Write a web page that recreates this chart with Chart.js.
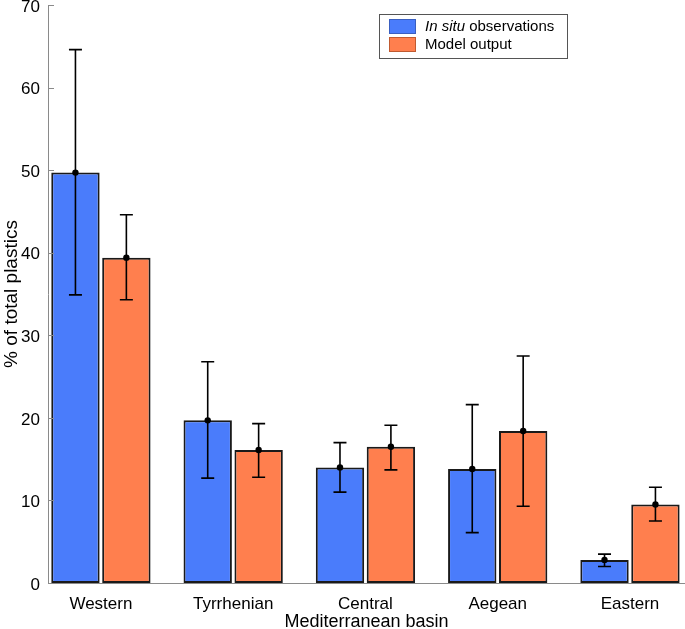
<!DOCTYPE html>
<html>
<head>
<meta charset="utf-8">
<script src="https://cdn.jsdelivr.net/npm/chart.js@4.4.0/dist/chart.umd.min.js"></script>
<style>
  html, body { margin: 0; padding: 0; background: #fff; }
</style>
</head>
<body>
<canvas id="chart" width="685" height="629"></canvas>
<script>
// data
const categories = ["Western", "Tyrrhenian", "Central", "Aegean", "Eastern"];
const insitu = [49.7, 19.7, 14.0, 13.8, 2.8];
const insituLow = [34.9, 12.7, 11.0, 6.1, 2.0];
const insituHigh = [64.6, 26.8, 17.0, 21.6, 3.5];
const model = [39.4, 16.1, 16.5, 18.4, 9.5];
const modelLow = [34.3, 12.8, 13.7, 9.3, 7.5];
const modelHigh = [44.6, 19.3, 19.1, 27.5, 11.6];
const yTicks = [0, 10, 20, 30, 40, 50, 60, 70];

const FONT = "'Liberation Sans', Arial, Helvetica, sans-serif";
const BLUE = "#4a7cfb";
const ORANGE = "#ff7f4e";

const errors = [
	{ low: insituLow, high: insituHigh },
	{ low: modelLow, high: modelHigh },
];

// error bars + inward y ticks + legend box
const extras = {
	id: "extras",
	afterDatasetsDraw(chart) {
		const ctx = chart.ctx;
		const y = chart.scales.y;
		const area = chart.chartArea;
		ctx.save();

		// y ticks pointing into the plot
		ctx.strokeStyle = "#8a8a8a";
		ctx.lineWidth = 1;
		yTicks.forEach((t) => {
			const py = Math.round(y.getPixelForValue(t)) + 0.5;
			ctx.beginPath();
			ctx.moveTo(area.left, py);
			ctx.lineTo(area.left + 6, py);
			ctx.stroke();
		});

		// error bars
		ctx.strokeStyle = "#000";
		ctx.fillStyle = "#000";
		ctx.lineWidth = 1.6;
		chart.data.datasets.forEach((ds, di) => {
			const meta = chart.getDatasetMeta(di);
			meta.data.forEach((bar, i) => {
				const x = bar.x;
				const top = y.getPixelForValue(errors[di].high[i]);
				const bot = y.getPixelForValue(errors[di].low[i]);
				ctx.beginPath();
				ctx.moveTo(x, top);
				ctx.lineTo(x, bot);
				ctx.moveTo(x - 6.5, top);
				ctx.lineTo(x + 6.5, top);
				ctx.moveTo(x - 6.5, bot);
				ctx.lineTo(x + 6.5, bot);
				ctx.stroke();
				ctx.beginPath();
				ctx.arc(x, bar.y, 3.2, 0, Math.PI * 2);
				ctx.fill();
			});
		});

		// legend
		const lx = 379, ly = 14, lw = 188, lh = 44;
		ctx.fillStyle = "#fff";
		ctx.fillRect(lx, ly, lw, lh);
		ctx.strokeStyle = "#555";
		ctx.lineWidth = 1;
		ctx.strokeRect(lx + 0.5, ly + 0.5, lw, lh);
		const rows = [
			{ color: BLUE, border: "#3a5fc0", y: 19 },
			{ color: ORANGE, border: "#c05a30", y: 37 },
		];
		rows.forEach((r) => {
			ctx.fillStyle = r.color;
			ctx.fillRect(389, r.y, 27, 15);
			ctx.strokeStyle = r.border;
			ctx.strokeRect(389.5, r.y + 0.5, 26, 14);
		});
		ctx.fillStyle = "#000";
		ctx.textBaseline = "middle";
		ctx.textAlign = "left";
		ctx.font = "italic 15px " + FONT;
		ctx.fillText("In situ", 425, 27);
		const w = ctx.measureText("In situ ").width;
		ctx.font = "15px " + FONT;
		ctx.fillText("observations", 425 + w, 27);
		ctx.fillText(chart.data.datasets[1].label, 425, 45);

		ctx.restore();
	},
};

const data = {
	datasets: [
		{
			label: "In situ observations",
			data: insitu.map((v, i) => ({ x: i + 1, y: v })),
			backgroundColor: BLUE,
			borderColor: "#1a1a1a",
			borderWidth: 2,
			borderSkipped: false,
		},
		{
			label: "Model output",
			data: model.map((v, i) => ({ x: i + 1, y: v })),
			backgroundColor: ORANGE,
			borderColor: "#1a1a1a",
			borderWidth: 2,
			borderSkipped: false,
		},
	],
};

const options = {
	responsive: false,
	devicePixelRatio: 1,
	animation: false,
	categoryPercentage: 0.77,
	barPercentage: 0.95,
	layout: { padding: { top: 5, right: 0, bottom: 0, left: 0 } },
	plugins: {
		legend: { display: false },
		tooltip: { enabled: false },
	},
	scales: {
		x: {
			type: "linear",
			offset: false,
			min: 0.6,
			max: 5.416,
			afterBuildTicks: (s) => {
				s.ticks = categories.map((c, i) => ({ value: i + 1 }));
			},
			afterFit: (s) => {
				s.height = 46;
				s.paddingLeft = 0;
				s.paddingRight = 0;
			},
			grid: { display: false, drawTicks: false, offset: false },
			border: { color: "#8a8a8a", width: 1 },
			ticks: {
				autoSkip: false,
				maxRotation: 0,
				padding: 11,
				color: "#000",
				font: { family: FONT, size: 17 },
				callback: (v) => categories[v - 1],
			},
			title: {
				display: true,
				text: "Mediterranean basin",
				color: "#000",
				font: { family: FONT, size: 18, lineHeight: 0.8 },
				padding: { top: 0, bottom: 0 },
			},
		},
		y: {
			min: 0,
			max: 70,
			afterBuildTicks: (s) => {
				s.ticks = yTicks.map((v) => ({ value: v }));
			},
			afterFit: (s) => {
				s.width = 48;
				s.paddingTop = 0;
				s.paddingBottom = 0;
			},
			grid: { display: false, drawTicks: false },
			border: { color: "#8a8a8a", width: 1 },
			ticks: {
				padding: 8,
				labelOffset: 2,
				color: "#000",
				font: { family: FONT, size: 17 },
			},
			title: {
				display: true,
				text: "% of total plastics",
				color: "#000",
				font: { family: FONT, size: 19 },
				padding: { top: 0, bottom: 0 },
			},
		},
	},
};

new Chart(document.getElementById("chart").getContext("2d"), {
	type: "bar",
	data,
	options,
	plugins: [extras],
});
</script>
</body>
</html>
